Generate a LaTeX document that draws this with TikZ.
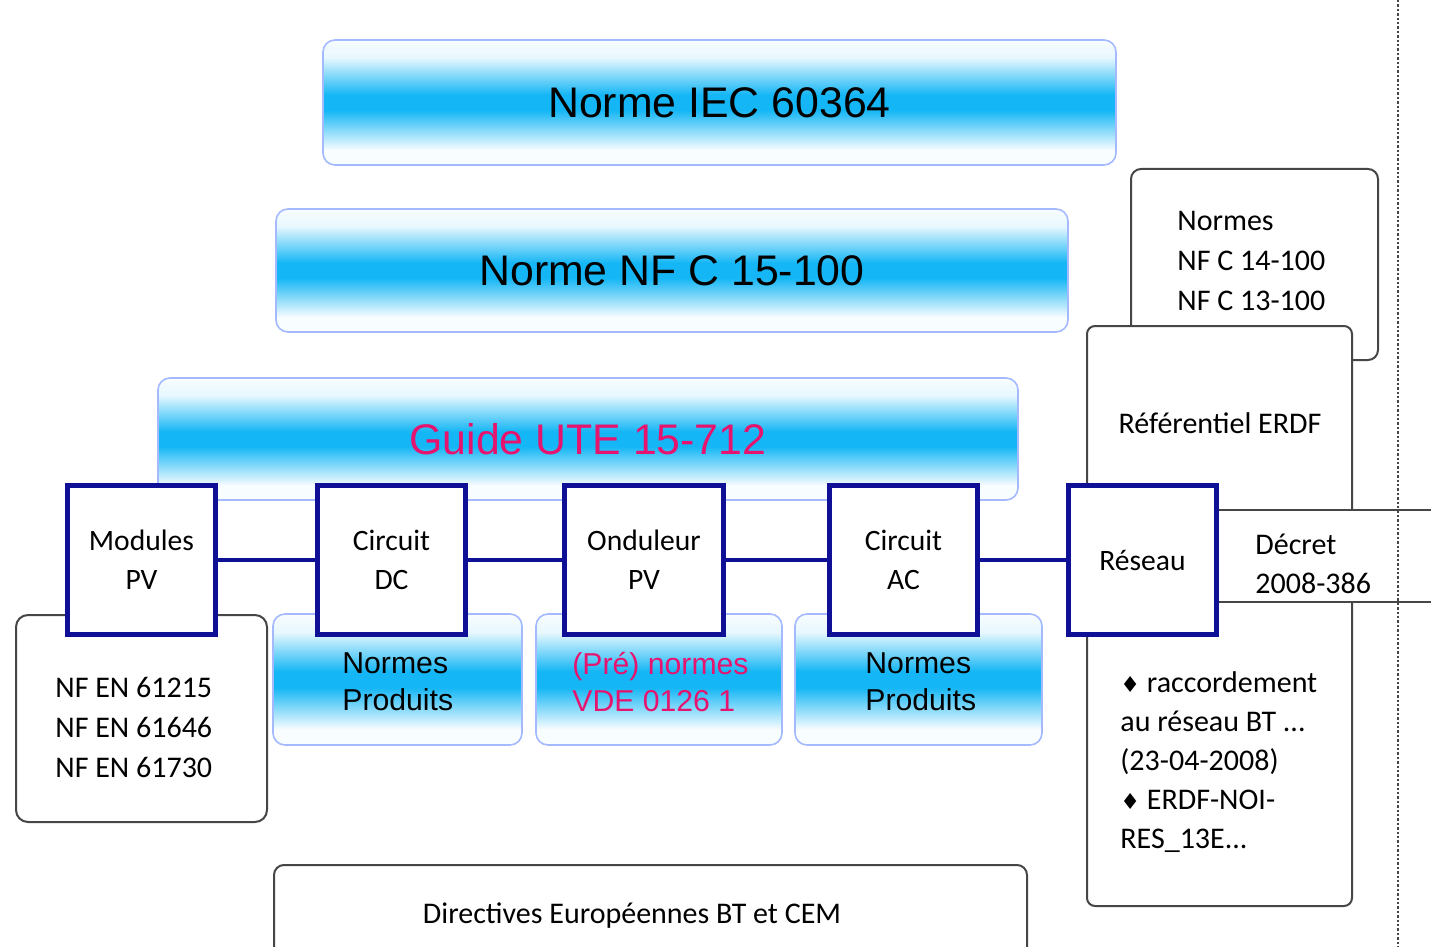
\documentclass[tikz,border=0pt]{standalone}
\usepackage{fontspec}
\setmainfont{Carlito}
\newfontfamily\arialf{Liberation Sans}
\newfontfamily\djv{DejaVu Sans}
\definecolor{cy}{RGB}{20,182,245}
\definecolor{lightb}{RGB}{165,185,255}
\definecolor{nodeblue}{RGB}{16,16,150}
\definecolor{magt}{RGB}{230,20,110}
\definecolor{grayb}{RGB}{70,70,70}
\colorlet{paleA}{white!90!cy}
\colorlet{paleB}{white!97!cy}
\pgfdeclareverticalshading{bandshade}{100bp}{color(0bp)=(paleB); color(25bp)=(paleB); color(31bp)=(paleB); color(47bp)=(cy); color(53bp)=(cy); color(68bp)=(paleA); color(75bp)=(paleB); color(100bp)=(paleB)}
\tikzset{
  gbox/.style={draw=lightb, line width=0.8pt, rounded corners=6pt, shade, shading=bandshade, inner sep=0pt},
  wbox/.style={draw=grayb, line width=1pt, fill=white, rounded corners=5pt, inner sep=0pt},
  nbox/.style={draw=nodeblue, line width=2.5pt, fill=white, inner sep=0pt, align=center, font=\fontsize{14.8}{19.5}\selectfont},
  link/.style={draw=nodeblue, line width=2pt},
  txt/.style={inner sep=0pt, align=left, font=\fontsize{15}{19.6}\selectfont},
  bigtxt/.style={font=\arialf\fontsize{21.4}{24}\selectfont},
  smtxt/.style={inner sep=0pt, align=left, font=\arialf\fontsize{15.1}{18.5}\selectfont},
  dotline/.style={draw=grayb, line width=1pt, dash pattern=on 1.2pt off 1pt},
}
\newcommand{\dmd}{{\djv\fontsize{11}{11}\selectfont ♦}}
\begin{document}
\begin{tikzpicture}[x=0.5pt,y=-0.5pt]
\useasboundingbox (0,0) rectangle (1431,947);
% big shaded boxes
\node[gbox, bigtxt, minimum width=396.5pt, minimum height=62.5pt] (iec) at (719.5,102.5) {Norme IEC 60364};
\node[gbox, bigtxt, minimum width=396pt, minimum height=61.5pt] (nfc) at (672,270.5) {Norme NF C 15-100};
\node[gbox, bigtxt, text=magt, minimum width=430pt, minimum height=61pt] (ute) at (588,439) {Guide UTE 15-712};
% right side boxes
\node[wbox, minimum width=123.5pt, minimum height=95.5pt] (nfc14) at (1254.5,264.5) {};
\node[txt, anchor=west, font=\fontsize{15}{20}\selectfont] (nfc14t) at (1177,260.5) {Normes\\NF C 14-100\\NF C 13-100};
\node[wbox, rounded corners=4pt, minimum width=132.5pt, minimum height=290pt] (ref) at (1219.5,616) {};
\node[txt] (reft) at (1220,423) {Référentiel ERDF};
\fill[white] (1218,510) rectangle (1431,602);
\draw[grayb, line width=1pt] (1218,510) -- (1431,510);
\draw[grayb, line width=1pt] (1218,602) -- (1431,602);
\node[txt, anchor=west] (decret) at (1255,564) {Décret\\2008-386};
\node[txt, anchor=west] (ract) at (1120,762) {\dmd\ raccordement\\au réseau BT ...\\(23-04-2008)\\\dmd\ ERDF-NOI-\\RES\_13E...};
% lower boxes
\node[wbox, rounded corners=6pt, minimum width=125.5pt, minimum height=103.5pt] (nfen) at (141.5,718.5) {};
\node[txt, anchor=west, font=\fontsize{15}{20}\selectfont] (nfent) at (55,727) {NF EN 61215\\NF EN 61646\\NF EN 61730};
\node[gbox, minimum width=124.5pt, minimum height=65.5pt] (np1) at (397.5,679.5) {};
\node[gbox, minimum width=123pt, minimum height=65.5pt] (vde) at (659,679.5) {};
\node[gbox, minimum width=123.5pt, minimum height=65.5pt] (np2) at (918.5,679.5) {};
\node[smtxt, anchor=west] (np1t) at (342,682) {Normes\\Produits};
\node[smtxt, anchor=west, text=magt] (vdet) at (572,682) {(Pré) normes\\VDE 0126 1};
\node[smtxt, anchor=west] (np2t) at (865,682) {Normes\\Produits};
% chain nodes
\node[nbox, minimum width=74pt, minimum height=74.5pt] (mod) at (141.5,560) {Modules\\PV};
\node[nbox, minimum width=74pt, minimum height=74.5pt] (dc) at (391.5,560) {Circuit\\DC};
\node[nbox, minimum width=79.5pt, minimum height=74.5pt] (ond) at (644,560) {Onduleur\\PV};
\node[nbox, minimum width=74pt, minimum height=74.5pt] (ac) at (903.5,560) {Circuit\\AC};
\node[nbox, minimum width=74pt, minimum height=74.5pt] (res) at (1142.5,560) {Réseau};
\draw[link] (mod) -- (dc);
\draw[link] (dc) -- (ond);
\draw[link] (ond) -- (ac);
\draw[link] (ac) -- (res);
% bottom box
\node[wbox, rounded corners=5pt, minimum width=376.5pt, minimum height=70pt, anchor=north] (dir) at (650.5,864) {};
\node[txt] (dirt) at (632,916) {Directives Européennes BT et CEM};
% dotted line
\draw[dotline] (1398,0) -- (1398,947);
\end{tikzpicture}
\end{document}
